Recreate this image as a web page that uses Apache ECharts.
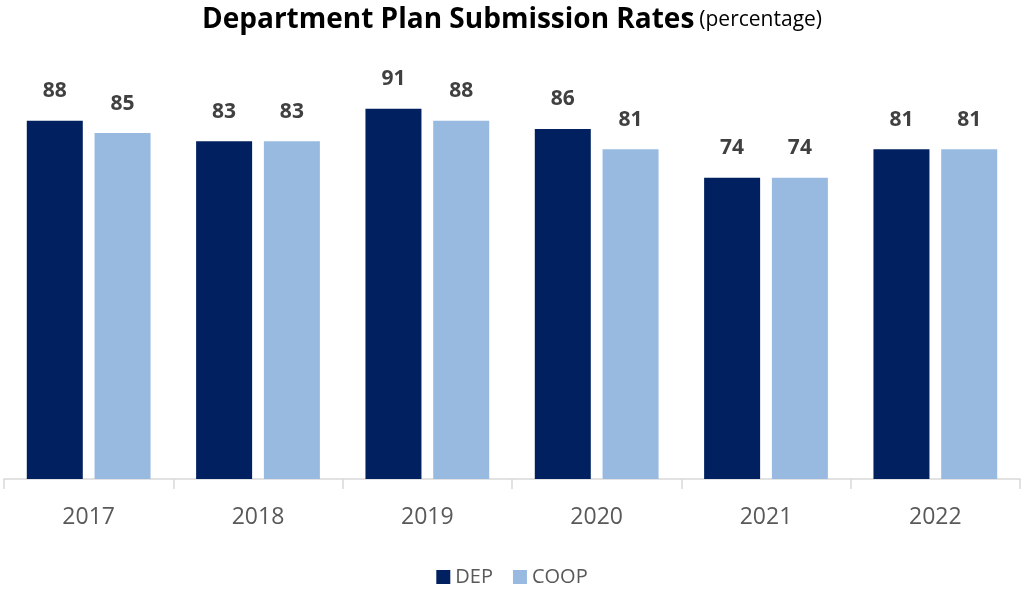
<!DOCTYPE html>
<html><head><meta charset="utf-8">
<script src="https://cdn.jsdelivr.net/npm/echarts@6/dist/echarts.min.js"></script>
<style>html,body{margin:0;padding:0;background:#fff}#c{width:1024px;height:598px}</style>
</head><body><div id="c"></div>
<script>
const categories = ['2017','2018','2019','2020','2021','2022'];
const depValues = [88, 83, 91, 86, 74, 81];
const coopValues = [85, 83, 88, 81, 74, 81];
const seriesNames = ['DEP','COOP'];

const chart = echarts.init(document.getElementById('c'));
const font = '"Open Sans", "Noto Sans", sans-serif';
chart.setOption({
  animation: false,
  title: {
    text: '{b|Department Plan Submission Rates} {n|(percentage)}',
    left: 'center', top: 1,
    textStyle: {
      rich: {
        b: {fontFamily: font, fontWeight: 'bold', fontSize: 28, color: '#000'},
        n: {fontFamily: font, fontWeight: 'normal', fontSize: 21, color: '#000'}
      }
    }
  },
  legend: {
    bottom: 6, left: 'center', itemWidth: 14, itemHeight: 14, itemGap: 20,
    icon: 'rect',
    textStyle: {fontFamily: font, fontSize: 20, color: '#595959'},
    data: seriesNames
  },
  grid: {left: 4, right: 4, top: 72, bottom: 119, containLabel: false},
  xAxis: {
    type: 'category', data: categories,
    axisLine: {lineStyle: {color: '#d9d9d9', width: 1.5}},
    axisTick: {show: true, length: 10, lineStyle: {color: '#d9d9d9', width: 1.5}},
    axisLabel: {fontFamily: font, fontSize: 23, color: '#595959', margin: 27}
  },
  yAxis: {type: 'value', min: 0, max: 100, show: false, splitLine: {show: false}},
  series: [
    {name: seriesNames[0], type: 'bar', data: depValues, barWidth: 56, barGap: '21%',
     itemStyle: {color: '#002060'},
     label: {show: true, position: 'top', distance: 19, fontFamily: font, fontWeight: 'bold', fontSize: 21, color: '#404040'}},
    {name: seriesNames[1], type: 'bar', data: coopValues, barWidth: 56,
     itemStyle: {color: '#98BAE1'},
     label: {show: true, position: 'top', distance: 19, fontFamily: font, fontWeight: 'bold', fontSize: 21, color: '#404040'}}
  ]
});
</script></body></html>
